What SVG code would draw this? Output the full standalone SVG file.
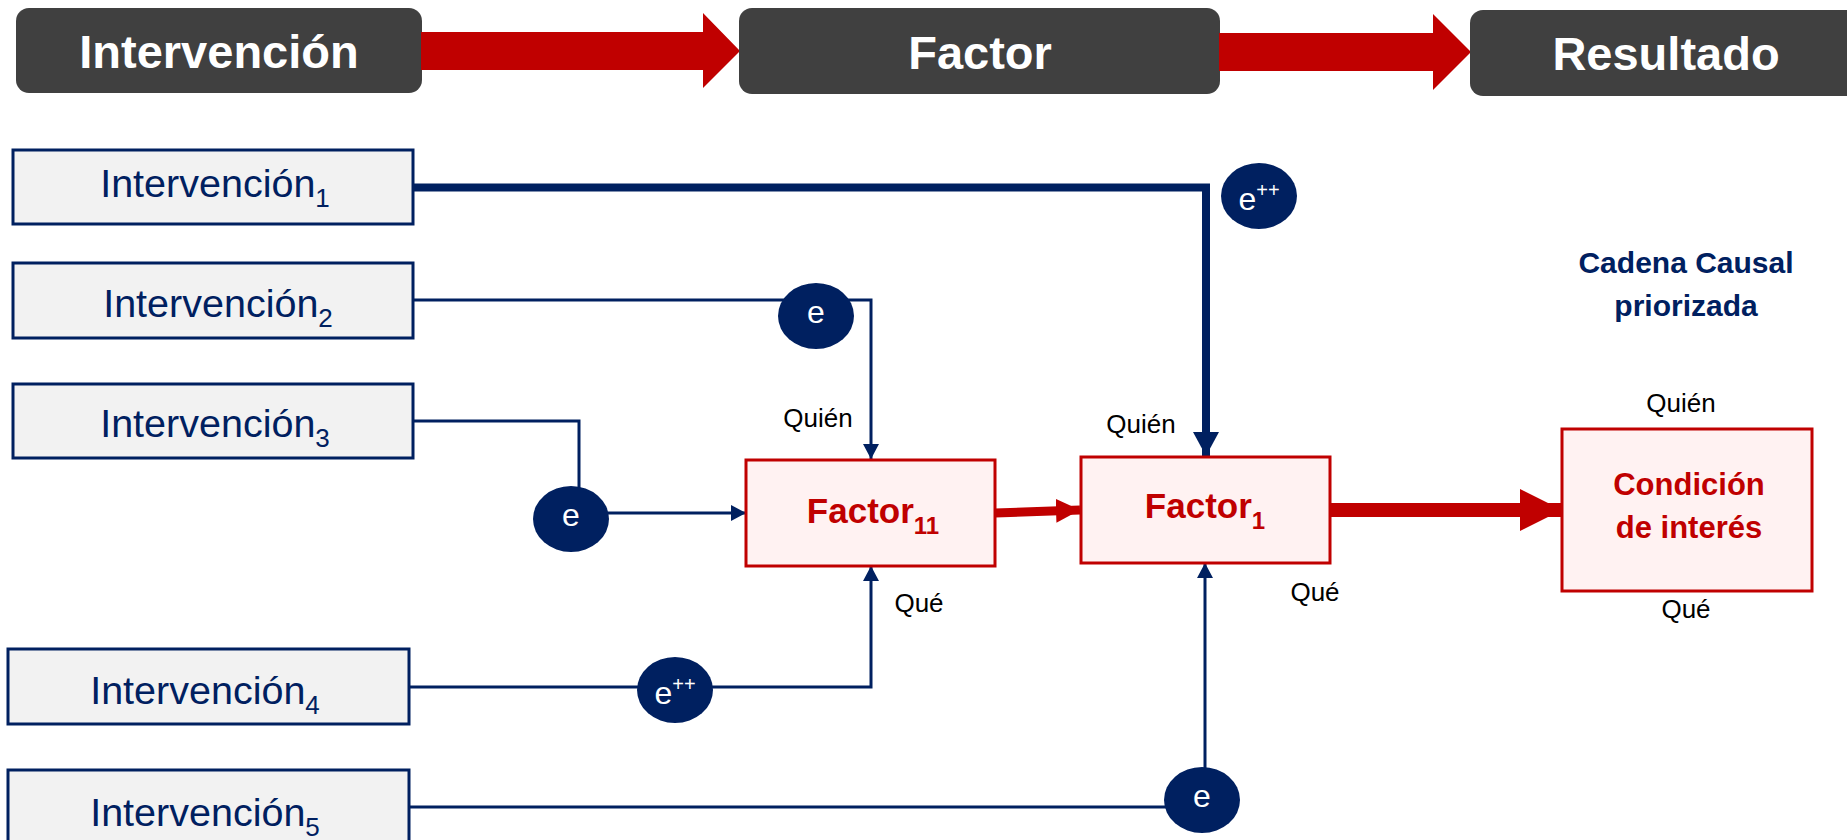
<svg xmlns="http://www.w3.org/2000/svg" width="1847" height="840" viewBox="0 0 1847 840">
<style>
.hdr{fill:#404040}
.hdrt{font-family:"Liberation Sans",Arial,sans-serif;font-weight:bold;font-size:47px;fill:#ffffff;text-anchor:middle}
.ibox{fill:#f2f2f2;stroke:#002060;stroke-width:3}
.it{font-family:"Liberation Sans",Arial,sans-serif;font-size:39.5px;fill:#002060;text-anchor:middle}
.fbox{fill:#fff2f2;stroke:#c00000;stroke-width:3}
.ft{font-family:"Liberation Sans",Arial,sans-serif;font-weight:bold;font-size:35px;fill:#c00000;text-anchor:middle}
.ct{font-family:"Liberation Sans",Arial,sans-serif;font-weight:bold;font-size:31px;fill:#c00000;text-anchor:middle}
.lbl{font-family:"Liberation Sans",Arial,sans-serif;font-size:26px;fill:#000000;text-anchor:middle}
.ttl{font-family:"Liberation Sans",Arial,sans-serif;font-weight:bold;font-size:30px;fill:#002060;text-anchor:middle}
.eel{fill:#002060}
.et{font-family:"Liberation Sans",Arial,sans-serif;font-size:32px;fill:#ffffff;text-anchor:middle}
.thin{fill:none;stroke:#002060;stroke-width:3}
.thick{fill:none;stroke:#002060;stroke-width:8}
.red{fill:#c00000}
</style>
<defs>
<marker id="an" markerUnits="userSpaceOnUse" markerWidth="15" markerHeight="16" viewBox="0 0 15 16" refX="15" refY="8" orient="auto"><path d="M0,0 L15,8 L0,16 z" fill="#002060"/></marker>
<marker id="anb" markerUnits="userSpaceOnUse" markerWidth="24" markerHeight="26" viewBox="0 0 24 26" refX="24" refY="13" orient="auto"><path d="M0,0 L24,13 L0,26 z" fill="#002060"/></marker>
<marker id="ar" markerUnits="userSpaceOnUse" markerWidth="24" markerHeight="24" viewBox="0 0 24 24" refX="24" refY="12" orient="auto"><path d="M0,0 L24,12 L0,24 z" fill="#c00000"/></marker>
<marker id="arb" markerUnits="userSpaceOnUse" markerWidth="42" markerHeight="42" viewBox="0 0 42 42" refX="42" refY="21" orient="auto"><path d="M0,0 L42,21 L0,42 z" fill="#c00000"/></marker>
</defs>

<g id="header">
<rect class="hdr" x="16" y="8" width="406" height="85" rx="13"/>
<text class="hdrt" x="219" y="68">Intervención</text>
<polygon class="red" points="421,32 703,32 703,13 740,51 703,88 703,70 421,70"/>
<rect class="hdr" x="739" y="8" width="481" height="86" rx="13"/>
<text class="hdrt" x="980" y="69">Factor</text>
<polygon class="red" points="1219,33 1433,33 1433,14 1471,52 1433,90 1433,71 1219,71"/>
<rect class="hdr" x="1470" y="10" width="395" height="86" rx="13"/>
<text class="hdrt" x="1666" y="70">Resultado</text>
</g>

<g id="connectors">
<path class="thick" d="M413,187.5 H1206 V456" marker-end="url(#anb)"/>
<path class="thin" d="M413,300 H871 V459" marker-end="url(#an)"/>
<path class="thin" d="M413,421 H579 V490"/>
<path class="thin" d="M608,513 H746" marker-end="url(#an)"/>
<path class="thin" d="M409,687 H871 V566" marker-end="url(#an)"/>
<path class="thin" d="M409,807 H1170"/>
<path class="thin" d="M1205,770 V563" marker-end="url(#an)"/>
<path d="M995,513 L1080,510" fill="none" stroke="#c00000" stroke-width="9" marker-end="url(#ar)"/>
<path d="M1330,510 L1562,510" fill="none" stroke="#c00000" stroke-width="14" marker-end="url(#arb)"/>
</g>

<g id="int1"><rect class="ibox" x="13" y="150" width="400" height="74"/><text class="it" x="215" y="197">Intervención<tspan dy="10" font-size="26">1</tspan></text></g>
<g id="int2"><rect class="ibox" x="13" y="263" width="400" height="75"/><text class="it" x="218" y="317">Intervención<tspan dy="10" font-size="26">2</tspan></text></g>
<g id="int3"><rect class="ibox" x="13" y="384" width="400" height="74"/><text class="it" x="215" y="437">Intervención<tspan dy="10" font-size="26">3</tspan></text></g>
<g id="int4"><rect class="ibox" x="8" y="649" width="401" height="75"/><text class="it" x="205" y="704">Intervención<tspan dy="10" font-size="26">4</tspan></text></g>
<g id="int5"><rect class="ibox" x="8" y="770" width="401" height="76"/><text class="it" x="205" y="826">Intervención<tspan dy="10" font-size="26">5</tspan></text></g>

<g id="e1"><ellipse class="eel" cx="1259" cy="196" rx="38" ry="33"/><text class="et" x="1259" y="210">e<tspan dy="-13" font-size="20">++</tspan></text></g>
<g id="e2"><ellipse class="eel" cx="816" cy="316" rx="38" ry="33"/><text class="et" x="816" y="323">e</text></g>
<g id="e3"><ellipse class="eel" cx="571" cy="519" rx="38" ry="33"/><text class="et" x="571" y="526">e</text></g>
<g id="e4"><ellipse class="eel" cx="675" cy="690" rx="38" ry="33"/><text class="et" x="675" y="704">e<tspan dy="-13" font-size="20">++</tspan></text></g>
<g id="e5"><ellipse class="eel" cx="1202" cy="800" rx="38" ry="33"/><text class="et" x="1202" y="807">e</text></g>

<g id="factor11"><rect class="fbox" x="746" y="460" width="249" height="106"/><text class="ft" x="873" y="523">Factor<tspan dy="11" font-size="24">11</tspan></text></g>
<g id="factor1"><rect class="fbox" x="1081" y="457" width="249" height="106"/><text class="ft" x="1205" y="518">Factor<tspan dy="11" font-size="24">1</tspan></text></g>
<g id="condicion"><rect class="fbox" x="1562" y="429" width="250" height="162"/><text class="ct" x="1689" y="495">Condición</text><text class="ct" x="1689" y="538">de interés</text></g>

<g id="labels">
<text class="lbl" x="818" y="427">Quién</text>
<text class="lbl" x="1141" y="433">Quién</text>
<text class="lbl" x="1681" y="412">Quién</text>
<text class="lbl" x="919" y="612">Qué</text>
<text class="lbl" x="1315" y="601">Qué</text>
<text class="lbl" x="1686" y="618">Qué</text>
<text class="ttl" x="1686" y="273">Cadena Causal</text>
<text class="ttl" x="1686" y="316">priorizada</text>
</g>
</svg>
